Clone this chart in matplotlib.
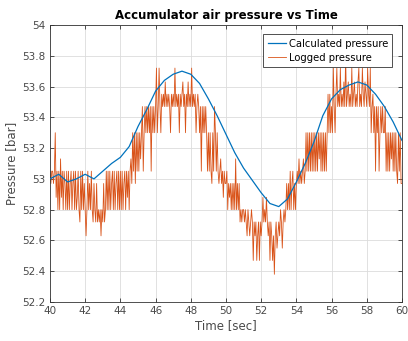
import numpy as np
import matplotlib
matplotlib.use("Agg")
import matplotlib.pyplot as plt
from matplotlib.ticker import FuncFormatter

# Calculated pressure (smooth model output), read every 0.5 s
calc_time = [40.0, 40.5, 41.0, 41.5, 42.0, 42.5, 43.0, 43.5, 44.0, 44.5,
             45.0, 45.5, 46.0, 46.5, 47.0, 47.5, 48.0, 48.5, 49.0, 49.5,
             50.0, 50.5, 51.0, 51.5, 52.0, 52.5, 53.0, 53.5, 54.0, 54.5,
             55.0, 55.5, 56.0, 56.5, 57.0, 57.5, 58.0, 58.5, 59.0, 59.5, 60.0]
calc_pressure = [53.00, 53.03, 52.98, 53.00, 53.03, 53.00, 53.05, 53.10, 53.14, 53.21,
                 53.34, 53.45, 53.57, 53.64, 53.68, 53.70, 53.68, 53.62, 53.52, 53.41,
                 53.29, 53.17, 53.07, 52.99, 52.91, 52.84, 52.82, 52.87, 52.98, 53.10,
                 53.24, 53.41, 53.52, 53.58, 53.61, 53.63, 53.61, 53.55, 53.47, 53.37, 53.25]

# Logged pressure (quantized sensor), sampled every 0.05 s, one row per second
log_start, log_step = 40.0, 0.05
log_pressure = [
    53.05, 52.97, 53.05, 53.05, 52.97, 53.05, 53.30, 52.88, 53.05, 52.80, 53.05, 52.80, 53.13, 52.88, 53.05, 52.80, 53.05, 52.97, 52.80, 53.05,
    52.80, 53.05, 52.80, 52.97, 53.05, 52.80, 52.97, 53.05, 52.80, 53.05, 52.80, 52.88, 53.05, 52.80, 52.72, 53.05, 52.80, 53.05, 52.80, 52.97,
    52.80, 52.63, 52.80, 53.05, 52.80, 52.97, 52.80, 53.05, 52.80, 52.72, 52.97, 52.80, 52.72, 52.97, 52.72, 52.80, 52.72, 52.80, 52.63, 52.80,
    52.72, 52.97, 52.72, 52.80, 53.05, 52.80, 53.05, 52.80, 53.05, 52.80, 52.97, 53.05, 52.80, 53.05, 52.80, 52.97, 53.05, 52.80, 53.05, 52.80,
    53.05, 52.80, 53.05, 52.80, 52.97, 53.05, 52.80, 53.05, 52.88, 53.05, 52.80, 53.05, 53.13, 52.97, 53.30, 53.05, 53.30, 52.97, 53.30, 53.05,
    53.30, 53.05, 53.30, 53.13, 53.30, 53.47, 53.05, 53.30, 53.47, 53.30, 53.47, 53.30, 53.47, 53.30, 53.47, 53.05, 53.47, 53.30, 53.47, 53.30,
    53.47, 53.72, 53.30, 53.47, 53.72, 53.47, 53.30, 53.55, 53.47, 53.55, 53.47, 53.63, 53.47, 53.55, 53.47, 53.55, 53.47, 53.30, 53.55, 53.47,
    53.55, 53.47, 53.72, 53.47, 53.55, 53.47, 53.55, 53.30, 53.55, 53.47, 53.55, 53.63, 53.47, 53.55, 53.30, 53.55, 53.47, 53.63, 53.47, 53.55,
    53.47, 53.72, 53.47, 53.55, 53.47, 53.55, 53.30, 53.47, 53.55, 53.47, 53.30, 53.47, 53.05, 53.47, 53.30, 53.47, 53.30, 53.47, 53.30, 53.05,
    53.30, 53.05, 53.30, 53.05, 52.97, 53.30, 53.05, 53.47, 53.30, 53.05, 53.30, 53.05, 52.97, 53.05, 53.13, 52.97, 53.05, 52.88, 53.05, 52.97,
    52.97, 53.05, 52.80, 52.97, 52.88, 52.97, 52.80, 52.97, 52.80, 52.97, 52.80, 53.13, 52.80, 52.97, 52.80, 52.97, 52.72, 52.80, 52.72, 52.80,
    52.80, 52.72, 52.80, 52.72, 52.63, 52.80, 52.72, 52.63, 52.72, 52.80, 52.72, 52.47, 52.72, 52.63, 52.72, 52.47, 52.63, 52.72, 52.47, 52.72,
    52.63, 52.72, 52.88, 52.72, 52.80, 52.72, 52.88, 52.72, 52.63, 52.72, 52.47, 52.72, 52.63, 52.47, 52.63, 52.38, 52.63, 52.72, 52.55, 52.63,
    52.72, 52.63, 52.80, 52.72, 52.55, 52.72, 52.80, 52.72, 52.80, 52.97, 52.80, 52.97, 52.80, 53.05, 52.80, 52.97, 53.05, 52.80, 52.97, 52.80,
    52.97, 53.05, 52.97, 53.13, 52.97, 53.05, 52.97, 53.05, 53.13, 52.97, 53.05, 53.30, 53.05, 53.30, 53.05, 53.30, 53.05, 53.30, 53.05, 53.30,
    53.05, 53.30, 53.05, 53.30, 53.05, 53.30, 53.13, 53.30, 53.05, 53.30, 53.05, 53.30, 53.05, 53.30, 53.05, 53.30, 53.55, 53.30, 53.55, 53.30,
    53.47, 53.30, 53.72, 53.47, 53.30, 53.55, 53.72, 53.47, 53.55, 53.47, 53.72, 53.47, 53.55, 53.47, 53.63, 53.47, 53.80, 53.47, 53.55, 53.63,
    53.47, 53.55, 53.47, 53.72, 53.47, 53.55, 53.63, 53.47, 53.55, 53.47, 53.63, 53.72, 53.47, 53.55, 53.47, 53.72, 53.55, 53.47, 53.63, 53.55,
    53.47, 53.72, 53.55, 53.47, 53.72, 53.30, 53.47, 53.55, 53.30, 53.47, 53.05, 53.47, 53.30, 53.47, 53.05, 53.30, 53.47, 53.30, 53.47, 53.30,
    53.30, 53.47, 53.05, 53.30, 53.05, 53.30, 53.05, 53.30, 53.13, 53.30, 53.05, 53.30, 53.05, 53.30, 53.05, 52.97, 53.30, 53.05, 53.30, 52.97,
    52.97,
]
log_time = log_start + log_step * np.arange(len(log_pressure))

x_ticks = list(range(40, 61, 2))
y_ticks = [52.2, 52.4, 52.6, 52.8, 53.0, 53.2, 53.4, 53.6, 53.8, 54.0]

blue = "#0072BD"
orange = "#D95319"
grey = "#4a4a4a"

fig = plt.figure(figsize=(4.08, 3.41), dpi=100)
ax = fig.add_axes([0.1225, 0.1144, 0.8627, 0.8123])

ax.plot(calc_time, calc_pressure, color=blue, lw=0.9, label="Calculated pressure", zorder=3)
ax.plot(log_time, log_pressure, color=orange, lw=0.6, label="Logged pressure", zorder=2)

ax.set_xlim(40, 60)
ax.set_ylim(52.2, 54)
ax.set_xticks(x_ticks)
ax.set_yticks(y_ticks)
ax.yaxis.set_major_formatter(FuncFormatter(lambda v, p: f"{v:g}"))
ax.grid(True, color="#dcdcdc", lw=0.6)
ax.set_axisbelow(True)
ax.tick_params(direction="in", top=True, right=True, length=3, width=0.6,
               labelsize=7.5, labelcolor=grey, color="#333333", pad=3)
for s in ax.spines.values():
    s.set_color("#333333")
    s.set_linewidth(0.6)

ax.set_title("Accumulator air pressure vs Time", fontsize=8.5, fontweight="bold", pad=4)
ax.set_xlabel("Time [sec]", fontsize=8.5, color=grey, labelpad=2)
ax.set_ylabel("Pressure [bar]", fontsize=8.5, color=grey, labelpad=3)

leg = ax.legend(loc="upper right", fontsize=7.2, fancybox=False, framealpha=1,
                edgecolor="#333333", borderpad=0.45, handlelength=1.8,
                handletextpad=0.3, labelspacing=0.4, borderaxespad=0.95)
leg.get_frame().set_linewidth(0.6)

fig.savefig("out.png", dpi=100)
